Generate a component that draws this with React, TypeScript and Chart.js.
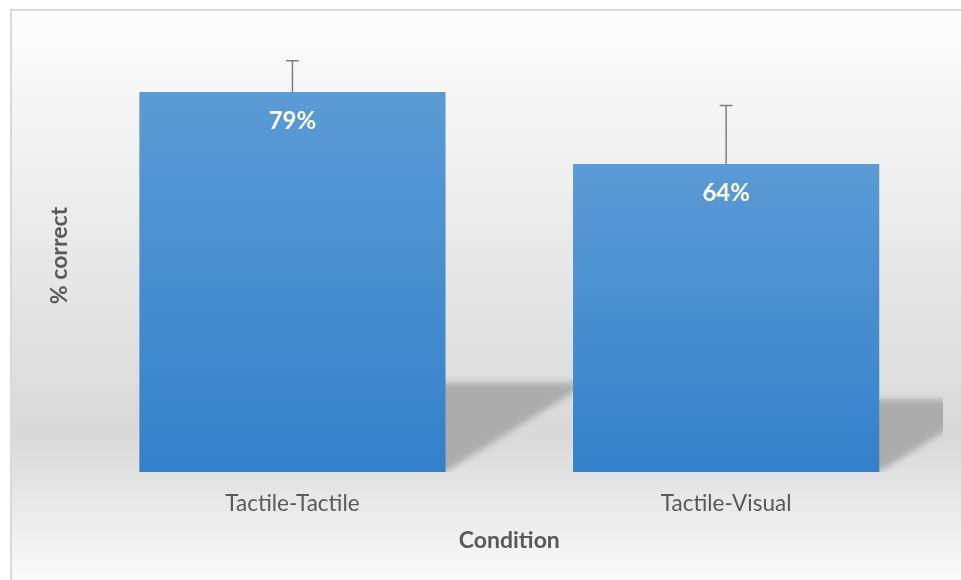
import { useEffect, useRef } from "react";
import { Chart, registerables } from "chart.js";

Chart.register(...registerables);

const categories = ["Tactile-Tactile", "Tactile-Visual"];
const percentCorrect = [79, 64];
const errorPlus = [6.5, 12.2];
const valueLabels = ["79%", "64%"];
const yMin = 0;
const yMax = 90;
const xTitle = "Condition";
const yTitle = "% correct";

const FONT = "Lato, 'Open Sans', sans-serif";

const shadowPlugin = {
  id: "perspectiveShadow",
  beforeDatasetsDraw(chart: any) {
    const { ctx, chartArea } = chart;
    const meta = chart.getDatasetMeta(0);
    ctx.save();
    ctx.beginPath();
    ctx.rect(chartArea.left, chartArea.top, chartArea.right - chartArea.left, chartArea.bottom - chartArea.top);
    ctx.clip();
    ctx.filter = "blur(3px)";
    ctx.fillStyle = "#acacac";
    meta.data.forEach((bar: any) => {
      const { x, y, base, width } = bar.getProps(["x", "y", "base", "width"], true);
      const left = x - width / 2;
      const right = x + width / 2;
      const h = (base - y) * 0.235;
      const s = h * 1.6;
      ctx.beginPath();
      ctx.moveTo(left, base);
      ctx.lineTo(right, base);
      ctx.lineTo(right + s, base - h);
      ctx.lineTo(left + s, base - h);
      ctx.closePath();
      ctx.fill();
    });
    ctx.restore();
  },
};

const errorBarPlugin = {
  id: "errorBars",
  afterDatasetsDraw(chart: any) {
    const { ctx } = chart;
    const yScale = chart.scales.y;
    const meta = chart.getDatasetMeta(0);
    ctx.save();
    ctx.strokeStyle = "#7f7f7f";
    ctx.lineWidth = 1.5;
    meta.data.forEach((bar: any, i: number) => {
      const { x, y } = bar.getProps(["x", "y"], true);
      const yTop = yScale.getPixelForValue(percentCorrect[i] + errorPlus[i]);
      ctx.beginPath();
      ctx.moveTo(x, y);
      ctx.lineTo(x, yTop);
      ctx.moveTo(x - 6.5, yTop);
      ctx.lineTo(x + 6.5, yTop);
      ctx.stroke();
    });
    ctx.restore();
  },
};

const valueLabelPlugin = {
  id: "valueLabels",
  afterDatasetsDraw(chart: any) {
    const { ctx } = chart;
    const meta = chart.getDatasetMeta(0);
    ctx.save();
    ctx.fillStyle = "#ffffff";
    ctx.font = `bold 24px ${FONT}`;
    ctx.textAlign = "center";
    ctx.textBaseline = "middle";
    meta.data.forEach((bar: any, i: number) => {
      const { x, y } = bar.getProps(["x", "y"], true);
      ctx.fillText(valueLabels[i], x, y + 29);
    });
    ctx.restore();
  },
};

export default function App() {
  const canvasRef = useRef<HTMLCanvasElement | null>(null);

  useEffect(() => {
    if (!canvasRef.current) return;
    const chart = new Chart(canvasRef.current, {
      type: "bar",
      data: {
        labels: categories,
        datasets: [
          {
            data: percentCorrect,
            backgroundColor: (c: any) => {
              const ch = c.chart;
              const area = ch.chartArea;
              if (!area || c.dataIndex == null) return "#4a90d0";
              const top = ch.scales.y.getPixelForValue(percentCorrect[c.dataIndex]);
              const g = ch.ctx.createLinearGradient(0, top, 0, area.bottom);
              g.addColorStop(0, "#5b9bd5");
              g.addColorStop(1, "#3381ca");
              return g;
            },
            borderWidth: 0,
            barPercentage: 0.706,
            categoryPercentage: 1,
          },
        ],
      },
      options: {
        responsive: false,
        animation: false,
        layout: { padding: { left: 40, right: 18, top: 39, bottom: 29 } },
        plugins: {
          legend: { display: false },
          tooltip: { enabled: false },
        },
        scales: {
          x: {
            grid: { display: false, drawTicks: false },
            border: { display: false },
            ticks: {
              color: "#595959",
              font: { family: FONT, size: 22.5 },
              padding: 18,
            },
            title: {
              display: true,
              text: xTitle,
              color: "#595959",
              font: { family: FONT, size: 23, weight: "bold", lineHeight: 0.52 },
              padding: { top: 0, bottom: 4 },
            },
          },
          y: {
            min: yMin,
            max: yMax,
            grid: { display: false, drawTicks: false },
            border: { display: false },
            ticks: { display: false },
            title: {
              display: true,
              text: yTitle,
              color: "#595959",
              font: { family: FONT, size: 23, weight: "bold" },
              padding: { top: 6, bottom: 2 },
            },
          },
        },
      },
      plugins: [shadowPlugin, errorBarPlugin, valueLabelPlugin],
    });
    return () => chart.destroy();
  }, []);

  return (
    <div
      style={{
        position: "fixed",
        left: 0,
        top: 0,
        width: 961,
        height: 580,
        overflow: "hidden",
        background: "#ffffff",
      }}
    >
      <div
        style={{
          position: "absolute",
          left: 10,
          top: 9,
          width: 980,
          height: 600,
          boxSizing: "border-box",
          borderTop: "2px solid #d9d9d9",
          borderLeft: "2px solid #d9d9d9",
          background: "linear-gradient(to bottom, #fdfdfd 0%, #d9d9d9 71%, #fdfdfd 97%)",
        }}
      />
      <canvas
        ref={canvasRef}
        width={961}
        height={580}
        style={{ position: "absolute", left: 0, top: 0 }}
      />
    </div>
  );
}
